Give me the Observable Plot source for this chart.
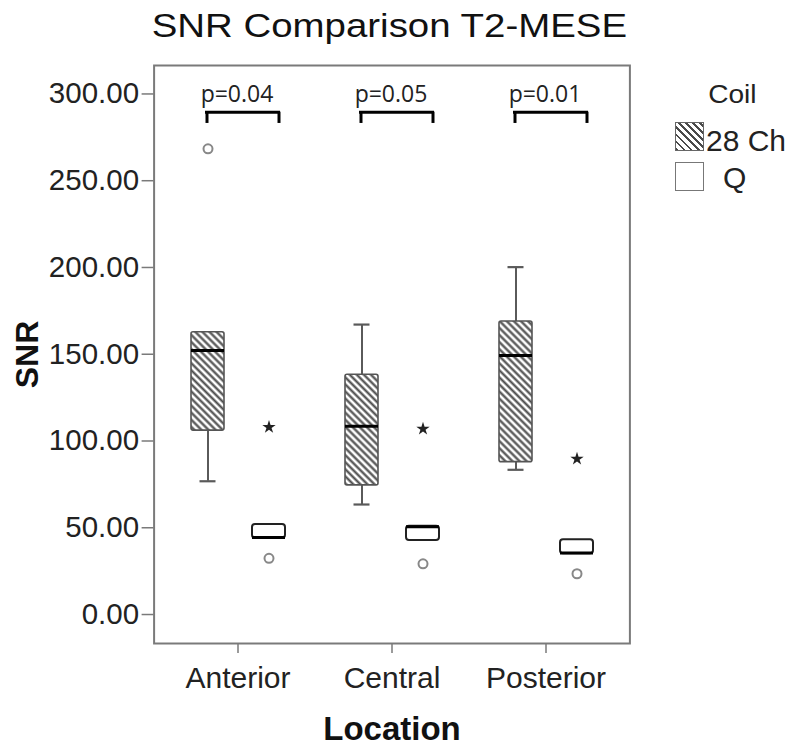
<!DOCTYPE html>
<html><head>
<meta charset="utf-8">
<script src="https://cdn.jsdelivr.net/npm/d3@7"></script>
<script src="https://cdn.jsdelivr.net/npm/@observablehq/plot@0.6"></script>
<style>
  body { margin: 0; background: #fff; }
  #wrap { position: relative; width: 800px; height: 754px; overflow: hidden; font-family: "Liberation Sans", Arial, sans-serif; color: #111; }
  #title { position: absolute; left: 0; top: 8px; width: 778px; text-align: center; font-size: 34px; line-height: 34px; }
  #title span { display: inline-block; transform: scaleX(1.13); transform-origin: center; }
  #chart { position: absolute; left: 0; top: 50px; }
  .lg { position: absolute; line-height: 1; color: #222; }
  .sw { position: absolute; box-sizing: border-box; }
</style>
</head><body>
<div id="wrap">
  <div id="title"><span>SNR Comparison T2-MESE</span></div>
  <div id="chart"></div>
  <div id="legend"></div>
</div>
<script>
// ---- data ----
const locations = ["Anterior", "Central", "Posterior"];
const coils = ["28 Ch", "Q"];
const boxLocation = ["Anterior", "Anterior", "Central", "Central", "Posterior", "Posterior"];
const boxCoil = ["28 Ch", "Q", "28 Ch", "Q", "28 Ch", "Q"];
const whiskerLow = [76.8, 44.0, 63.4, 42.7, 83.4, 35.0];
const quartile1 = [106.0, 44.0, 74.4, 42.7, 87.8, 35.0];
const medianValue = [152.2, 44.4, 108.5, 50.6, 149.3, 35.4];
const quartile3 = [162.7, 51.9, 138.2, 50.9, 168.9, 43.1];
const whiskerHigh = [162.7, 51.9, 167.1, 50.9, 200.2, 43.1];
const outlierLocation = ["Anterior", "Anterior", "Central", "Posterior"];
const outlierCoil = ["28 Ch", "Q", "Q", "Q"];
const outlierValue = [268.4, 32.4, 29.2, 23.5];
const extremeLocation = ["Anterior", "Central", "Posterior"];
const extremeCoil = ["Q", "Q", "Q"];
const extremeValue = [108.0, 107.0, 89.7];
const pLabels = ["p=0.04", "p=0.05", "p=0.01"];
const yTicks = [0, 50, 100, 150, 200, 250, 300];
const bracketTop = 289.5;
const bracketBottom = 283.0;

// ---- tables built from the arrays ----
const boxes = boxLocation.map((loc, i) => ({
  loc, coil: boxCoil[i], lw: whiskerLow[i], q1: quartile1[i],
  med: medianValue[i], q3: quartile3[i], hw: whiskerHigh[i]
}));
const outliers = outlierLocation.map((loc, i) => ({loc, coil: outlierCoil[i], v: outlierValue[i]}));
const extremes = extremeLocation.map((loc, i) => ({loc, coil: extremeCoil[i], v: extremeValue[i]}));
const brackets = locations.map((loc, i) => ({loc, label: pLabels[i]}));

const whiskerStroke = "#5a5a5a";
const outerPad = 14.4; // facet outer padding, in px, so the frame can reach the full plot area

const plot = Plot.plot({
  width: 800,
  height: 704,
  marginTop: 15,
  marginBottom: 111,
  marginLeft: 152,
  marginRight: 170,
  style: {fontFamily: "'Liberation Sans', Arial, sans-serif", fontSize: "28px", background: "transparent", overflow: "visible"},
  fx: {domain: locations, paddingInner: 0.1, paddingOuter: 0.093, label: null},
  x: {domain: coils, paddingInner: 0.463, paddingOuter: 0.364, axis: null},
  y: {domain: [-16.7, 316.4], label: null},
  color: {domain: coils, range: ["url(#hatch)", "#ffffff"]},
  marks: [
    Plot.frame({facet: "super", insetLeft: -outerPad, insetRight: -outerPad, stroke: "#7a7a7a", strokeWidth: 2}),
    Plot.axisY({ticks: yTicks, tickFormat: d3.format(".2f"), tickSize: 12, tickPadding: 3, dx: -outerPad,
      fontSize: 29.5, stroke: "#7a7a7a", strokeWidth: 1.5, fill: "#222", label: null}),
    Plot.axisFx({anchor: "bottom", tickSize: 10, tickPadding: 13, fontSize: 30,
      stroke: "#7a7a7a", strokeWidth: 1.5, fill: "#222", label: null}),
    Plot.text(["SNR"], {facet: "super", frameAnchor: "left", dx: -141, rotate: -90,
      fontSize: 32, fontWeight: "bold", textAnchor: "middle", lineAnchor: "middle", fill: "#111"}),
    Plot.text(["Location"], {facet: "super", frameAnchor: "bottom", dy: 86,
      fontSize: 33, fontWeight: "bold", textAnchor: "middle", lineAnchor: "middle", fill: "#111"}),
    // whiskers
    Plot.ruleX(boxes.filter(d => d.lw < d.q1), {fx: "loc", x: "coil", y1: "lw", y2: "q1", stroke: whiskerStroke, strokeWidth: 2}),
    Plot.ruleX(boxes.filter(d => d.hw > d.q3), {fx: "loc", x: "coil", y1: "q3", y2: "hw", stroke: whiskerStroke, strokeWidth: 2}),
    Plot.tickY(boxes.filter(d => d.lw < d.q1), {fx: "loc", x: "coil", y: "lw", insetLeft: 8.5, insetRight: 8.5, stroke: whiskerStroke, strokeWidth: 2.2}),
    Plot.tickY(boxes.filter(d => d.hw > d.q3), {fx: "loc", x: "coil", y: "hw", insetLeft: 8.5, insetRight: 8.5, stroke: whiskerStroke, strokeWidth: 2.2}),
    // boxes
    Plot.barY(boxes.filter(d => d.coil === "28 Ch"), {fx: "loc", x: "coil", y1: "q1", y2: "q3", fill: "coil", stroke: "#555", strokeWidth: 1.6, rx: 2}),
    Plot.barY(boxes.filter(d => d.coil === "Q"), {fx: "loc", x: "coil", y1: "q1", y2: "q3", fill: "coil", stroke: "#222", strokeWidth: 2, rx: 3}),
    // medians
    Plot.tickY(boxes, {fx: "loc", x: "coil", y: "med", stroke: "#000", strokeWidth: 3}),
    // outliers and extremes
    Plot.dot(outliers, {fx: "loc", x: "coil", y: "v", r: 4.5, stroke: "#888", strokeWidth: 2, fill: "none"}),
    Plot.dot(extremes, {fx: "loc", x: "coil", y: "v", r: 4.2, symbol: "star", fill: "#222", stroke: "none"}),
    // significance brackets
    Plot.ruleY(brackets, {fx: "loc", x1: () => "28 Ch", x2: () => "Q", y: () => bracketTop,
      insetLeft: 15.5, insetRight: 6.5, stroke: "#000", strokeWidth: 3, strokeLinecap: "square"}),
    Plot.ruleX(brackets, {fx: "loc", x: () => "28 Ch", y1: () => bracketBottom, y2: () => bracketTop, dx: -1, stroke: "#000", strokeWidth: 3}),
    Plot.ruleX(brackets, {fx: "loc", x: () => "Q", y1: () => bracketBottom, y2: () => bracketTop, dx: 10, stroke: "#000", strokeWidth: 3}),
    Plot.text(brackets, {fx: "loc", text: "label", y: () => bracketTop, dy: -10, dx: -1, lineAnchor: "bottom",
      fontFamily: "'Open Sans', 'Noto Sans', sans-serif", fontSize: 23, fill: "#222"})
  ]
});

d3.select(plot).insert("defs", ":first-child").html(
  '<pattern id="hatch" width="5" height="5" patternUnits="userSpaceOnUse" patternTransform="rotate(45)">' +
  '<rect width="5" height="5" fill="#fff"/>' +
  '<line x1="0" y1="2.5" x2="5" y2="2.5" stroke="#4a4a4a" stroke-width="2.2"/></pattern>'
);
document.getElementById("chart").append(plot);

// ---- legend (HTML) ----
const legend = d3.select("#legend");
const baselineTop = (baseline, size) => baseline - 0.8465 * size;
legend.append("div").attr("class", "lg")
  .style("left", "700px").style("width", "64px").style("text-align", "center")
  .style("font-size", "26px").style("top", baselineTop(103, 26) + "px")
  .append("span").style("display", "inline-block").style("transform", "scaleX(1.08)").text("Coil");
const items = [
  {label: coils[0], swTop: 122, textLeft: 706, baseline: 151,
   bg: "repeating-linear-gradient(45deg, #4a4a4a 0 2px, #fff 2px 5px)", border: "#666"},
  {label: coils[1], swTop: 162, textLeft: 723, baseline: 188, bg: "#fff", border: "#777"}
];
items.forEach(it => {
  legend.append("div").attr("class", "sw")
    .style("left", "675px").style("top", it.swTop + "px")
    .style("width", "29px").style("height", "29px")
    .style("background", it.bg).style("border", "1.6px solid " + it.border);
  legend.append("div").attr("class", "lg")
    .style("left", it.textLeft + "px").style("font-size", "30px")
    .style("top", baselineTop(it.baseline, 30) + "px").text(it.label);
});
</script>
</body></html>
